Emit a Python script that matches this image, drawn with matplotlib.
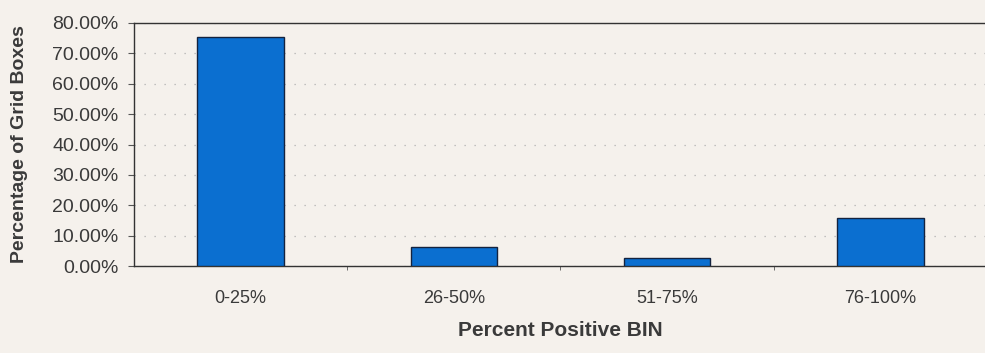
import matplotlib.pyplot as plt
from matplotlib.ticker import FuncFormatter, FixedLocator

# Bins and share of grid boxes (%)
bins = ['0-25%', '26-50%', '51-75%', '76-100%']
share = [75.4, 6.2, 2.7, 15.7]
y_ticks = [0, 10, 20, 30, 40, 50, 60, 70, 80]

plt.rcParams['font.family'] = ['Liberation Sans', 'DejaVu Sans']
bg = '#f5f1ec'
txt = '#3a3a3a'

fig = plt.figure(figsize=(9.85, 3.53), dpi=100, facecolor=bg)
ax = fig.add_axes([0.136, 0.246, 0.866, 0.689])
ax.set_facecolor(bg)

x = range(len(bins))
ax.bar(x, share, width=0.405, color='#0b6fd0', edgecolor='#14233f', linewidth=1.0, zorder=3)

ax.set_xlim(-0.5, 3.5)
ax.set_ylim(0, 80)
ax.set_yticks(y_ticks)
ax.yaxis.set_major_formatter(FuncFormatter(lambda v, p: f'{v:.2f}%'))
ax.set_xticks(list(x))
ax.set_xticklabels(bins)
ax.xaxis.set_minor_locator(FixedLocator([0.5, 1.5, 2.5]))

ax.tick_params(axis='x', which='major', length=0, pad=17, labelsize=13, colors=txt)
ax.tick_params(axis='x', which='minor', length=3, direction='out', color='#555555')
ax.tick_params(axis='y', length=4, direction='out', labelsize=14, color='#555555', labelcolor=txt, pad=7)

# dotted grid like the scanned Excel chart
ax.yaxis.grid(True, linestyle=(0, (1, 7)), color='#b0b0b0', linewidth=0.9, zorder=0)

for side in ['top', 'bottom', 'left']:
    ax.spines[side].set_color('#333333')
    ax.spines[side].set_linewidth(1.0)
ax.spines['right'].set_visible(False)

ax.set_ylabel('Percentage of Grid Boxes', fontsize=14, fontweight='bold', color=txt)
ax.yaxis.set_label_coords(-0.124, 0.5)
ax.set_xlabel('Percent Positive BIN', fontsize=15, fontweight='bold', color=txt)
ax.xaxis.set_label_coords(0.5, -0.225)

fig.savefig('out.png', dpi=100, facecolor=bg)
